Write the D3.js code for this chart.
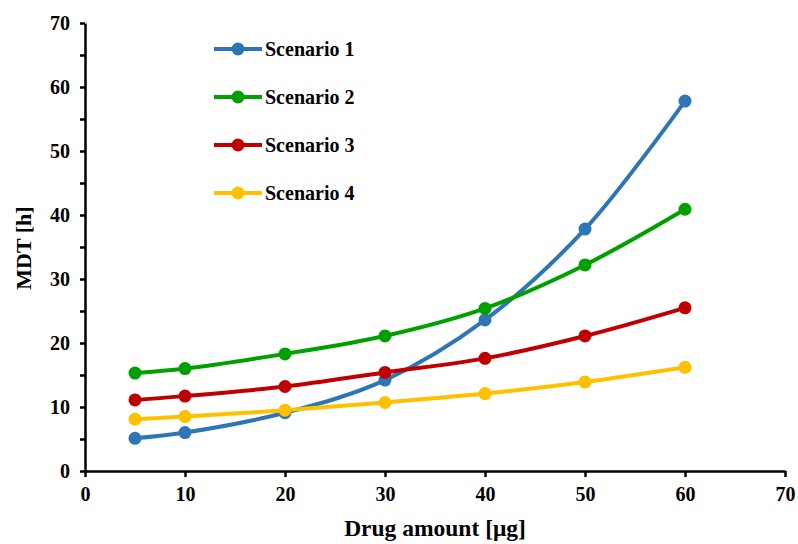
<!DOCTYPE html>
<head>
  <meta charset="utf-8">
  <style>
    body { margin: 0; background: #fff; }
    svg text { font-family: "Liberation Serif", "Times New Roman", serif; font-weight: bold; fill: #000; }
    .axis path, .axis line { stroke: #000; stroke-width: 2.5px; }
    .axis text { font-size: 20px; }
  </style>
</head>
<body>
<script src="https://d3js.org/d3.v7.min.js"></script>
<script>
  // chart data
  var drugAmount = [5, 10, 20, 30, 40, 50, 60];
  var scenarioNames = ["Scenario 1", "Scenario 2", "Scenario 3", "Scenario 4"];
  var scenario1 = [5.1, 6.0, 9.1, 14.2, 23.6, 37.8, 57.8];
  var scenario2 = [15.3, 16.0, 18.3, 21.1, 25.4, 32.2, 40.9];
  var scenario3 = [11.1, 11.7, 13.2, 15.4, 17.6, 21.1, 25.5];
  var scenario4 = [8.1, 8.5, 9.5, 10.7, 12.1, 13.9, 16.2];
  var xTicks = [0, 10, 20, 30, 40, 50, 60, 70];
  var yTicks = [0, 10, 20, 30, 40, 50, 60, 70];
  var yMinorTicks = [5, 15, 25, 35, 45, 55, 65];

  var colors = ["#2E75B6", "#00A000", "#C00000", "#FFC000"];
  var series = [scenario1, scenario2, scenario3, scenario4];

  var width = 798, height = 544;
  var plot = { left: 85, right: 785, top: 23, bottom: 471 };

  var svg = d3.select("body").append("svg")
      .attr("width", width)
      .attr("height", height);

  var xScale = d3.scaleLinear().domain([0, 70]).range([plot.left, plot.right]);
  var yScale = d3.scaleLinear().domain([0, 70]).range([plot.bottom, plot.top]);

  // x axis
  svg.append("g")
      .attr("class", "axis")
      .attr("transform", "translate(0," + plot.bottom + ")")
      .call(d3.axisBottom(xScale).tickValues(xTicks).tickSize(6).tickSizeOuter(0).tickPadding(10));

  // y axis, minor ticks first
  svg.append("g")
      .attr("class", "axis")
      .attr("transform", "translate(" + plot.left + ",0)")
      .call(d3.axisLeft(yScale).tickValues(yMinorTicks).tickSize(5).tickSizeOuter(0).tickFormat(""))
      .select(".domain").remove();

  svg.append("g")
      .attr("class", "axis")
      .attr("transform", "translate(" + plot.left + ",0)")
      .call(d3.axisLeft(yScale).tickValues(yTicks).tickSize(5).tickSizeOuter(0).tickPadding(10));

  // axis titles
  svg.append("text")
      .attr("x", 435)
      .attr("y", 536)
      .attr("text-anchor", "middle")
      .style("font-size", "23.5px")
      .text("Drug amount [\u03bcg]");

  svg.append("text")
      .attr("transform", "translate(31,248) rotate(-90)")
      .attr("text-anchor", "middle")
      .style("font-size", "22px")
      .text("MDT [h]");

  // lines
  var line = d3.line()
      .x(function (d, i) { return xScale(drugAmount[i]); })
      .y(function (d) { return yScale(d); })
      .curve(d3.curveCatmullRom.alpha(0.5));

  series.forEach(function (values, k) {
    svg.append("path")
        .attr("d", line(values))
        .style("fill", "none")
        .style("stroke", colors[k])
        .style("stroke-width", "4px");

    svg.selectAll(".pt" + k)
      .data(values)
      .enter().append("circle")
        .attr("cx", function (d, i) { return xScale(drugAmount[i]); })
        .attr("cy", function (d) { return yScale(d); })
        .attr("r", 6.5)
        .style("fill", colors[k]);
  });

  // legend
  var legend = svg.append("g").attr("transform", "translate(214,49)");
  scenarioNames.forEach(function (name, k) {
    var g = legend.append("g").attr("transform", "translate(0," + (k * 48) + ")");
    g.append("line")
        .attr("x1", 0).attr("x2", 48)
        .attr("y1", 0).attr("y2", 0)
        .style("stroke", colors[k])
        .style("stroke-width", "4px");
    g.append("circle")
        .attr("cx", 24).attr("cy", 0).attr("r", 6.5)
        .style("fill", colors[k]);
    g.append("text")
        .attr("x", 51)
        .attr("y", 7)
        .style("font-size", "20px")
        .text(name);
  });
</script>
</body>
</html>
